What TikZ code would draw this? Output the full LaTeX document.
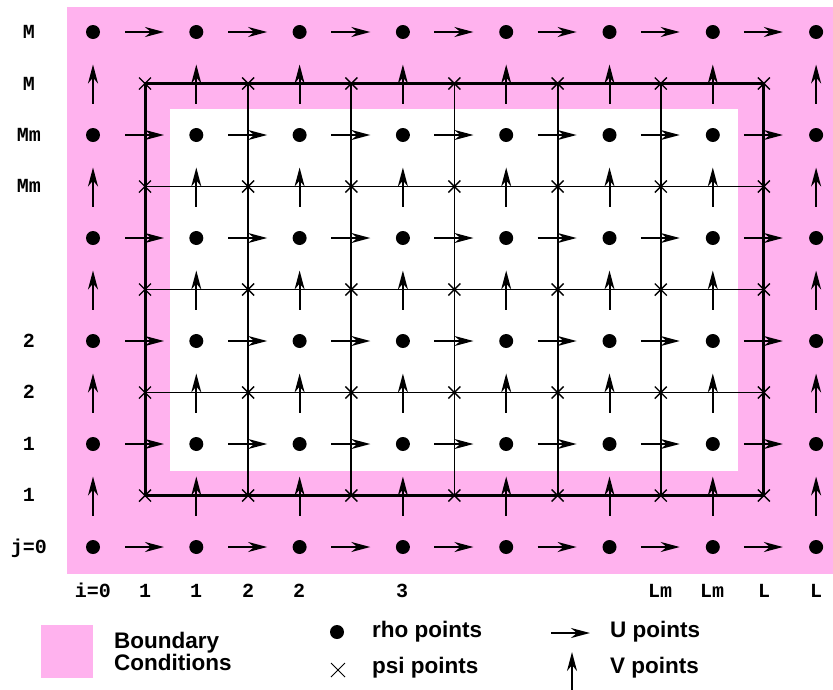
\documentclass[tikz,border=0pt]{standalone}
\usepackage{fontspec}
\setmainfont{Liberation Sans}
\newfontfamily\monof{Liberation Mono}
\usetikzlibrary{arrows.meta}
\definecolor{bcpink}{RGB}{255,178,238}
\begin{document}
\begin{tikzpicture}[x=1pt,y=-1pt,
  uvarrow/.style={line width=2pt,-{Stealth[length=19pt,width=10pt,inset=6pt]}},
  rhodot/.style={circle,fill=black,inner sep=0pt,minimum size=14pt},
  psimark/.style={line width=1.4pt},
  gridline/.style={line width=1.8pt},
  outerline/.style={line width=3pt},
  idxlabel/.style={font=\monof\bfseries\fontsize{20}{22}\selectfont,anchor=base,inner sep=0pt},
  leglabel/.style={font=\bfseries\fontsize{22.5}{24}\selectfont,anchor=base west,inner sep=0pt}
]
\useasboundingbox (0,0) rectangle (833,689);
% boundary region
\fill[bcpink] (67,7) rectangle (833,574);
\fill[white] (170,109) rectangle (738,471);
% grid lines
\foreach \k in {0,...,6} {
  \pgfmathsetmacro\xx{145+103.15*\k}
  \draw[gridline] (\xx,83.5) -- (\xx,495.5);
}
\foreach \r in {0,...,4} {
  \pgfmathsetmacro\yy{83.5+103*\r}
  \draw[gridline] (145,\yy) -- (763.9,\yy);
}
\draw[outerline,line join=miter] (145,83.5) rectangle (763.9,495.5);
% psi points
\foreach \k in {0,...,6} {
  \foreach \r in {0,...,4} {
    \pgfmathsetmacro\xx{145+103.15*\k}
    \pgfmathsetmacro\yy{83.5+103*\r}
    \coordinate (psi-\k-\r) at (\xx,\yy);
    \draw[psimark] ([shift={(-6,-6)}]psi-\k-\r) -- ([shift={(6,6)}]psi-\k-\r)
                   ([shift={(-6,6)}]psi-\k-\r) -- ([shift={(6,-6)}]psi-\k-\r);
  }
}
% rho points
\foreach \i in {0,...,7} {
  \foreach \r in {0,...,5} {
    \pgfmathsetmacro\xx{93+103.3*\i}
    \pgfmathsetmacro\yy{32+103*\r}
    \node[rhodot] (rho-\i-\r) at (\xx,\yy) {};
  }
}
% U points
\foreach \k in {0,...,6} {
  \foreach \r in {0,...,5} {
    \pgfmathsetmacro\xx{145+103.15*\k}
    \pgfmathsetmacro\yy{32+103*\r}
    \draw[uvarrow] (\xx-20,\yy) -- (\xx+19,\yy);
  }
}
% V points
\foreach \i in {0,...,7} {
  \foreach \r in {0,...,4} {
    \pgfmathsetmacro\xx{93+103.3*\i}
    \pgfmathsetmacro\yy{83.5+103*\r}
    \draw[uvarrow] (\xx,\yy+20) -- (\xx,\yy-19);
  }
}
% left labels
\node[idxlabel] (lM1) at (29,38.5) {M};
\node[idxlabel] (lM2) at (29,90) {M};
\node[idxlabel] (lMm1) at (29,141.5) {Mm};
\node[idxlabel] (lMm2) at (29,192.5) {Mm};
\node[idxlabel] (l21) at (29,347.5) {2};
\node[idxlabel] (l22) at (29,398.5) {2};
\node[idxlabel] (l11) at (29,450.5) {1};
\node[idxlabel] (l12) at (29,501.5) {1};
\node[idxlabel] (lj0) at (29,553.5) {j=0};
% bottom labels
\node[idxlabel] (bi0) at (93,597) {i=0};
\node[idxlabel] (b1a) at (145,597) {1};
\node[idxlabel] (b1b) at (196,597) {1};
\node[idxlabel] (b2a) at (248,597) {2};
\node[idxlabel] (b2b) at (299,597) {2};
\node[idxlabel] (b3) at (402,597) {3};
\node[idxlabel] (bLm1) at (660,597) {Lm};
\node[idxlabel] (bLm2) at (712,597) {Lm};
\node[idxlabel] (bL1) at (764,597) {L};
\node[idxlabel] (bL2) at (816,597) {L};
% legend
\fill[bcpink] (41,625) rectangle (93,678);
\node[leglabel,font=\bfseries\fontsize{22.5}{20}\selectfont,align=left] (bc) at (114,670) {Boundary\\Conditions};
\node[rhodot] (legrho) at (337,632) {};
\node[leglabel] (rhotxt) at (372,637) {rho points};
\coordinate (legpsi) at (338,670);
\draw[psimark,line width=1pt] ([shift={(-7,-7)}]legpsi) -- ([shift={(7,7)}]legpsi)
                 ([shift={(-7,7)}]legpsi) -- ([shift={(7,-7)}]legpsi);
\node[leglabel] (psitxt) at (372,673) {psi points};
\coordinate (legu0) at (551,633);
\coordinate (legu1) at (590,633);
\draw[uvarrow] (legu0) -- (legu1);
\node[leglabel] (utxt) at (610,637) {U points};
\coordinate (legv0) at (572,690);
\coordinate (legv1) at (572,652);
\draw[uvarrow] (legv0) -- (legv1);
\node[leglabel] (vtxt) at (610,673) {V points};
\end{tikzpicture}
\end{document}
